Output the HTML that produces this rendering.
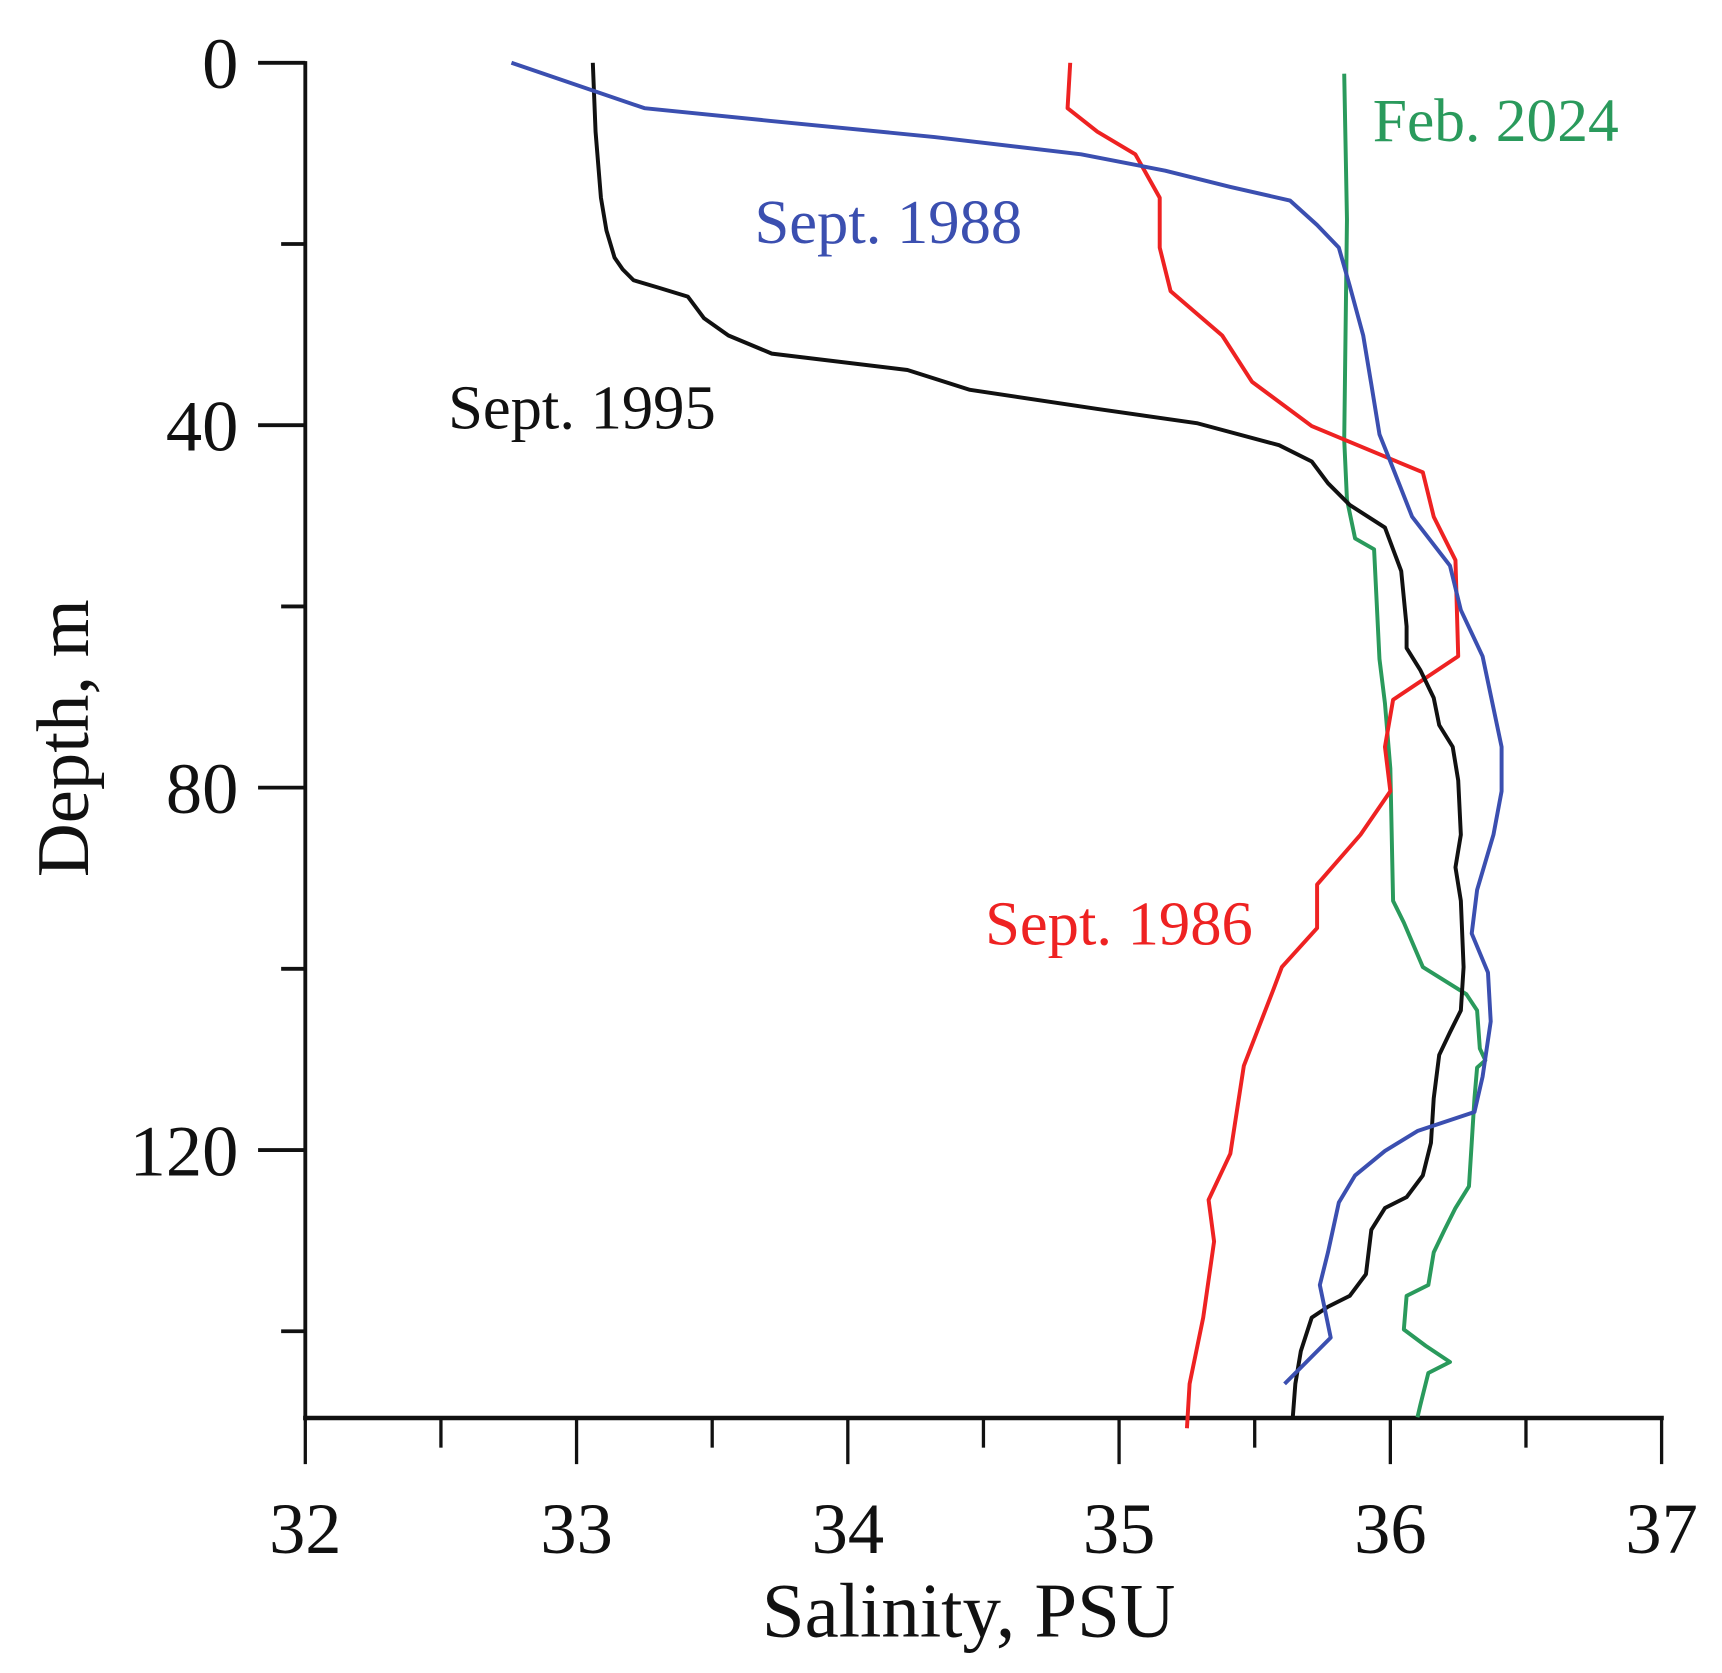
<!DOCTYPE html>
<html><head><meta charset="utf-8"><style>
html,body{margin:0;padding:0;background:#fff;}
svg{display:block;}
text{font-family:"Liberation Serif",serif;}
</style></head><body>
<svg id="chart" width="1722" height="1673" viewBox="0 0 1568 1523" xmlns="http://www.w3.org/2000/svg">
<g id="axes"></g>
<g id="series"></g>
<text x="1250" y="128" font-size="56" fill="#2a9a5c">Feb. 2024</text>
<text x="687" y="221" font-size="57" fill="#3b4fb0">Sept. 1988</text>
<text x="408" y="390" font-size="57" fill="#111">Sept. 1995</text>
<text x="897" y="860" font-size="57" fill="#ee2222">Sept. 1986</text>
<text x="882" y="1490" font-size="70" text-anchor="middle" fill="#111">Salinity, PSU</text>
<text transform="translate(80,672) rotate(-90)" font-size="68" text-anchor="middle" fill="#111">Depth, m</text>
</svg>
<script>
const xTicks = [32, 32.5, 33, 33.5, 34, 34.5, 35, 35.5, 36, 36.5, 37];
const xTickLabels = ["32", "", "33", "", "34", "", "35", "", "36", "", "37"];
const yTicks = [0, 20, 40, 60, 80, 100, 120, 140];
const yTickLabels = ["0", "", "40", "", "80", "", "120", ""];

const s1995Sal = [33.06,33.07,33.09,33.11,33.14,33.17,33.21,33.30,33.41,33.47,33.56,33.72,34.22,34.45,34.92,35.29,35.59,35.71,35.77,35.85,35.98,36.04,36.06,36.06,36.11,36.16,36.18,36.23,36.25,36.26,36.24,36.26,36.27,36.26,36.22,36.18,36.16,36.15,36.12,36.06,35.98,35.93,35.91,35.85,35.77,35.71,35.67,35.65,35.64];
const s1995Dep = [0,7.6,14.9,18.5,21.5,22.8,24.0,24.8,25.8,28.2,30.1,32.1,33.9,36.1,38.2,39.8,42.2,44.0,46.4,48.8,51.3,56.1,62.2,64.6,67.0,70.1,73.1,75.5,79.2,85.2,88.8,92.5,99.8,104.6,107.0,109.5,114.3,119.2,122.8,125.2,126.4,128.8,133.7,136.1,137.3,138.5,142.2,145.8,149.6];

const s1988Sal = [32.76,33.25,33.71,34.32,34.86,35.17,35.41,35.63,35.73,35.81,35.85,35.90,35.93,35.96,36.00,36.08,36.22,36.26,36.34,36.41,36.41,36.38,36.32,36.30,36.36,36.37,36.34,36.31,36.10,35.98,35.87,35.81,35.77,35.74,35.78,35.61];
const s1988Dep = [0,5.0,6.4,8.2,10.1,11.9,13.7,15.2,17.9,20.4,24.6,30.1,35.5,41.0,44.0,50.1,55.5,60.4,65.5,75.5,80.4,85.2,91.3,96.1,100.4,105.8,111.9,115.8,117.9,120.1,122.8,125.8,131.3,134.9,140.7,145.8];

const s1986Sal = [34.82,34.81,34.92,35.06,35.15,35.15,35.19,35.38,35.49,35.71,36.12,36.16,36.24,36.25,36.01,35.98,36.00,35.89,35.73,35.73,35.60,35.57,35.46,35.41,35.33,35.35,35.31,35.26,35.25];
const s1986Dep = [0,5.0,7.6,10.1,14.9,20.4,25.2,30.1,35.2,40.1,45.2,50.1,54.9,65.5,70.3,75.5,80.4,85.2,90.7,95.5,99.8,102.2,110.7,120.4,125.5,130.1,138.5,145.8,150.7];

const f2024Sal = [35.83,35.84,35.83,35.84,35.87,35.94,35.96,35.98,36.00,36.01,36.05,36.12,36.28,36.32,36.33,36.35,36.32,36.31,36.30,36.29,36.24,36.20,36.16,36.14,36.06,36.05,36.13,36.22,36.14,36.11,36.10];
const f2024Dep = [1.2,17.3,41.6,48.2,52.5,53.7,65.8,70.7,77.9,92.5,94.9,99.8,102.8,104.6,108.8,110.1,110.9,114.3,119.2,124.0,126.4,128.8,131.3,134.9,136.1,139.8,141.6,143.4,144.6,148.2,149.5];

const NS = "http://www.w3.org/2000/svg";
const X0 = 278, X1 = 1513, Y0 = 57, PXM = 8.25, XAXIS_Y = 1291;
function xs(v){ return X0 + (v - 32) * (X1 - X0) / 5; }
function ys(d){ return Y0 + d * PXM; }
function mk(tag, attrs, parent){ const e = document.createElementNS(NS, tag); for (const k in attrs) e.setAttribute(k, attrs[k]); parent.appendChild(e); return e; }

const axes = document.getElementById('axes');
const yl = mk('line', {x1:X0, y1:Y0-1.5, x2:X0, y2:XAXIS_Y+2, stroke:'#111', 'stroke-width':3.5}, axes);


const xl = mk('line', {x1:X0-2, y1:XAXIS_Y, x2:X1+2, y2:XAXIS_Y, stroke:'#111', 'stroke-width':4}, axes);



xTicks.forEach((v, i) => {
  const major = xTickLabels[i] !== "";
  const t = mk('line', {x1:xs(v), y1:XAXIS_Y, x2:xs(v), y2:XAXIS_Y + (major ? 42 : 27), stroke:'#111', 'stroke-width':3}, axes);
  
  
  if (major) {
    const tx = mk('text', {x:xs(v), y:1414, 'font-size':66, 'text-anchor':'middle', fill:'#111'}, axes);
    tx.textContent = xTickLabels[i];
    
    
  }
});
yTicks.forEach((v, i) => {
  const major = yTickLabels[i] !== "";
  const t = mk('line', {x1:X0 - (major ? 43 : 22), y1:ys(v), x2:X0, y2:ys(v), stroke:'#111', 'stroke-width':3.5}, axes);
  
  
  if (major) {
    const tx = mk('text', {x:217, y:ys(v) + 23, 'font-size':66, 'text-anchor':'end', fill:'#111'}, axes);
    tx.textContent = yTickLabels[i];
    
    
  }
});

const series = document.getElementById('series');
function drawLine(sal, dep, color, name){
  const pts = sal.map((s, i) => xs(s).toFixed(1) + ',' + ys(dep[i]).toFixed(1)).join(' ');
  const p = mk('polyline', {points:pts, fill:'none', stroke:color, 'stroke-width':3.6, 'stroke-linejoin':'round'}, series);
  
  
}
drawLine(f2024Sal, f2024Dep, '#2a9a5c', 'line-feb-2024');
drawLine(s1986Sal, s1986Dep, '#ee2222', 'line-sept-1986');
drawLine(s1995Sal, s1995Dep, '#111111', 'line-sept-1995');
drawLine(s1988Sal, s1988Dep, '#3b4fb0', 'line-sept-1988');
</script>
</body></html>
